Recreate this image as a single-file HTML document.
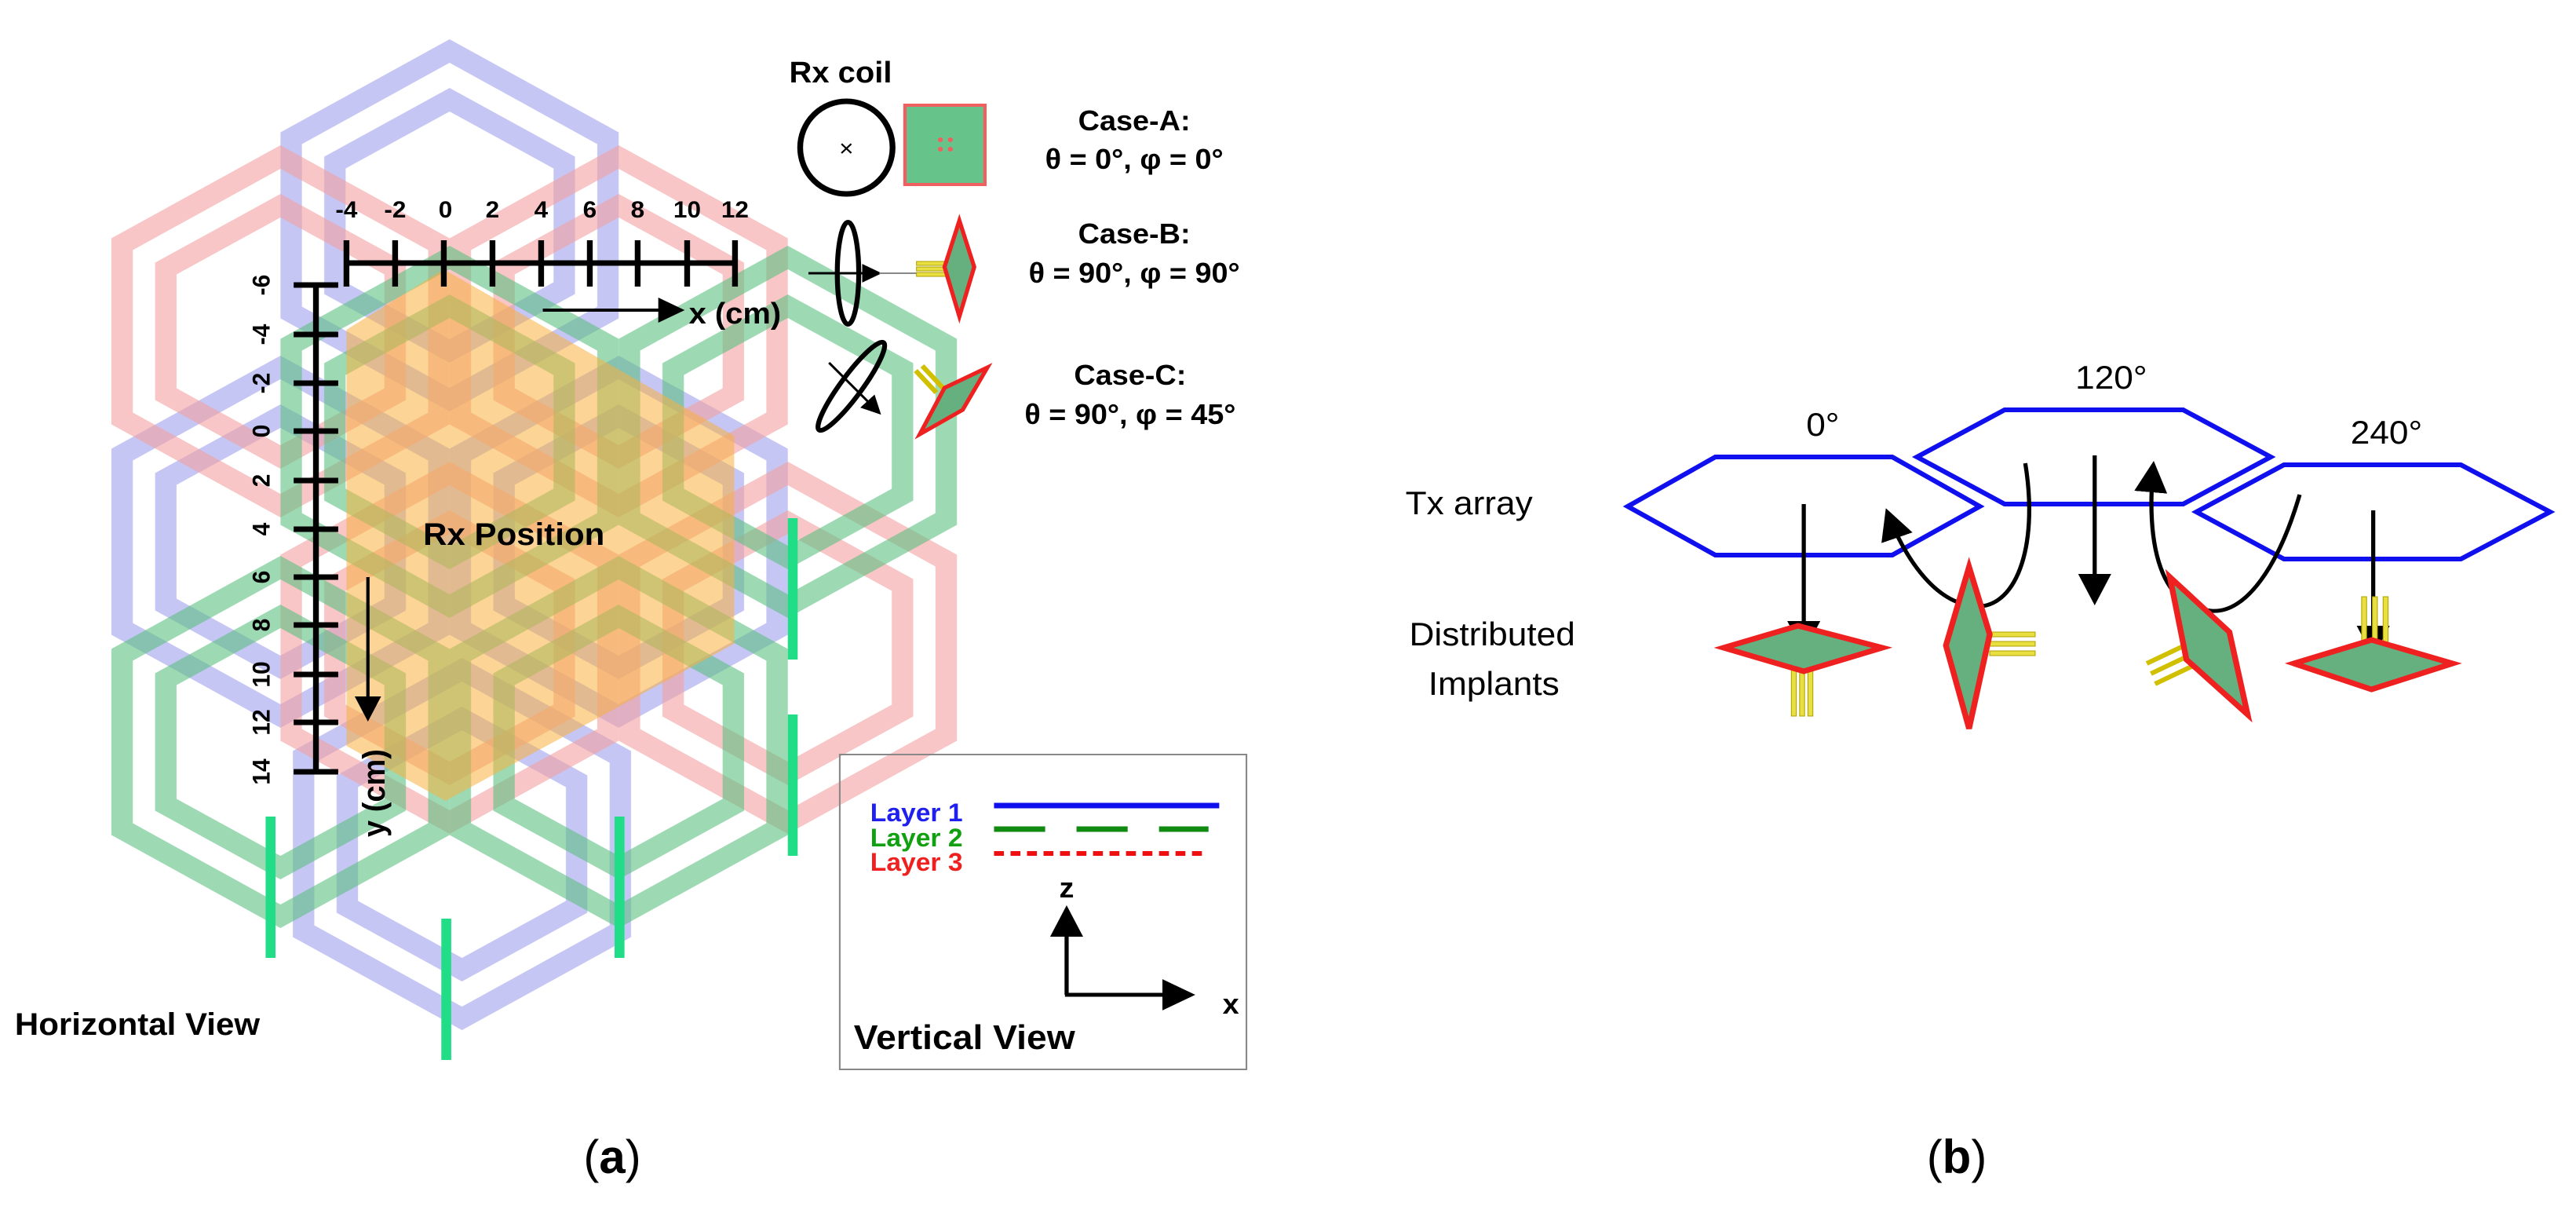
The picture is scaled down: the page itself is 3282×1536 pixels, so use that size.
<!DOCTYPE html>
<html><head><meta charset="utf-8"><style>
html,body{margin:0;padding:0;background:#fff;}
svg{display:block;}
text{font-family:"Liberation Sans",sans-serif;}
</style></head><body>
<svg width="3282" height="1536" viewBox="0 0 3282 1536" xmlns="http://www.w3.org/2000/svg">
<defs>
<marker id="ah" markerWidth="8" markerHeight="8" refX="7" refY="4" orient="auto" markerUnits="strokeWidth"><path d="M0,0 L8,4 L0,8 Z" fill="#000"/></marker>
<g id="hx"><polygon points="0,-222 192,-111 192,111 0,222 -192,111 -192,-111" fill="none" stroke-width="26"/><polygon points="0,-160 139,-80 139,80 0,160 -139,80 -139,-80" fill="none" stroke-width="26"/></g>
</defs>
<g transform="scale(1.051,1)">
<g opacity="0.65">
<use href="#hx" x="545" y="287" stroke="#a8a8f0"/>
<use href="#hx" x="340" y="690" stroke="#a8a8f0"/>
<use href="#hx" x="750" y="690" stroke="#a8a8f0"/>
<use href="#hx" x="560" y="1075" stroke="#a8a8f0"/>
</g>
<g opacity="0.6">
<use href="#hx" x="340" y="422" stroke="#f4a0a0"/>
<use href="#hx" x="750" y="422" stroke="#f4a0a0"/>
<use href="#hx" x="955" y="825" stroke="#f4a0a0"/>
<use href="#hx" x="545" y="825" stroke="#f4a0a0"/>
</g>
<g opacity="0.6">
<use href="#hx" x="955" y="550" stroke="#5cc080"/>
<use href="#hx" x="340" y="945" stroke="#5cc080"/>
<use href="#hx" x="750" y="945" stroke="#5cc080"/>
<use href="#hx" x="545" y="550" stroke="#5cc080"/>
</g>
<g fill="#22dd88"><rect x="322" y="1040" width="12" height="180"/><rect x="535" y="1170" width="12" height="180"/><rect x="745" y="1040" width="12" height="180"/><rect x="955" y="660" width="12" height="180"/><rect x="955" y="910" width="12" height="180"/></g>
<polygon points="538,343 890,555 890,820 540,1020 420,950 420,420" fill="#f8b040" opacity="0.55"/>
<g stroke="#000" stroke-width="7">
<line x1="420" y1="335" x2="891" y2="335"/>
<line x1="420" y1="306" x2="420" y2="365"/><line x1="479" y1="306" x2="479" y2="365"/><line x1="538" y1="306" x2="538" y2="365"/><line x1="597" y1="306" x2="597" y2="365"/><line x1="656" y1="306" x2="656" y2="365"/><line x1="715" y1="306" x2="715" y2="365"/><line x1="773" y1="306" x2="773" y2="365"/><line x1="833" y1="306" x2="833" y2="365"/><line x1="891" y1="306" x2="891" y2="365"/>
<line x1="383" y1="363" x2="383" y2="983"/>
<line x1="356" y1="363" x2="410" y2="363"/><line x1="356" y1="426" x2="410" y2="426"/><line x1="356" y1="488" x2="410" y2="488"/><line x1="356" y1="549" x2="410" y2="549"/><line x1="356" y1="612" x2="410" y2="612"/><line x1="356" y1="674" x2="410" y2="674"/><line x1="356" y1="735" x2="410" y2="735"/><line x1="356" y1="796" x2="410" y2="796"/><line x1="356" y1="859" x2="410" y2="859"/><line x1="356" y1="920" x2="410" y2="920"/><line x1="356" y1="983" x2="410" y2="983"/>
</g>
<g font-size="30" font-weight="bold" text-anchor="middle">
<text x="420" y="277">-4</text><text x="479" y="277">-2</text><text x="540" y="277">0</text><text x="597" y="277">2</text><text x="656" y="277">4</text><text x="715" y="277">6</text><text x="773" y="277">8</text><text x="833" y="277">10</text><text x="891" y="277">12</text>
<text transform="translate(327,363) rotate(-90)">-6</text><text transform="translate(327,426) rotate(-90)">-4</text><text transform="translate(327,488) rotate(-90)">-2</text><text transform="translate(327,549) rotate(-90)">0</text><text transform="translate(327,612) rotate(-90)">2</text><text transform="translate(327,674) rotate(-90)">4</text><text transform="translate(327,735) rotate(-90)">6</text><text transform="translate(327,796) rotate(-90)">8</text><text transform="translate(327,859) rotate(-90)">10</text><text transform="translate(327,920) rotate(-90)">12</text><text transform="translate(327,983) rotate(-90)">14</text>
</g>
<line x1="658" y1="395" x2="826" y2="395" stroke="#000" stroke-width="4" marker-end="url(#ah)"/>
<text x="835" y="412" font-size="38" font-weight="bold">x (cm)</text>
<line x1="446" y1="735" x2="446" y2="915" stroke="#000" stroke-width="4" marker-end="url(#ah)"/>
<text transform="translate(466,1010) rotate(-90)" font-size="38" font-weight="bold" text-anchor="middle">y (cm)</text>
<text x="513" y="694" font-size="40" font-weight="bold">Rx Position</text>
<text x="1019" y="105" font-size="38" font-weight="bold" text-anchor="middle">Rx coil</text>
<ellipse cx="1026" cy="188" rx="56" ry="59" fill="none" stroke="#000" stroke-width="7"/>
<text x="1026" y="199" font-size="30" text-anchor="middle">×</text>
<rect x="1097" y="134" width="97" height="101" fill="#66c48a" stroke="#f06060" stroke-width="4"/>
<g fill="#f06060"><circle cx="1140" cy="178" r="3"/><circle cx="1152" cy="178" r="3"/><circle cx="1140" cy="190" r="3"/><circle cx="1152" cy="190" r="3"/></g>
<g font-size="36" font-weight="bold" text-anchor="middle">
<text x="1375" y="166">Case-A:</text><text x="1375" y="215">θ = 0°, φ  = 0°</text>
<text x="1375" y="310">Case-B:</text><text x="1375" y="360">θ = 90°, φ = 90°</text>
<text x="1370" y="490">Case-C:</text><text x="1370" y="540">θ = 90°, φ = 45°</text>
</g>
<ellipse cx="1028" cy="348" rx="13" ry="65" fill="none" stroke="#000" stroke-width="6"/>
<line x1="980" y1="348" x2="1066" y2="348" stroke="#000" stroke-width="3" marker-end="url(#ah)"/>
<line x1="1066" y1="348" x2="1111" y2="348" stroke="#888" stroke-width="2"/>
<g fill="#e8e040" stroke="#b0a000" stroke-width="1"><rect x="1111" y="333" width="36" height="5"/><rect x="1111" y="340" width="36" height="5"/><rect x="1111" y="347" width="36" height="5"/></g>
<polygon points="1163,281 1181,340 1163,403 1145,340" fill="#66b080" stroke="#ee2020" stroke-width="5"/>
<ellipse cx="1032" cy="492" rx="68" ry="13" transform="rotate(-55 1032 492)" fill="none" stroke="#000" stroke-width="6"/>
<line x1="1005" y1="462" x2="1066" y2="526" stroke="#000" stroke-width="3" marker-end="url(#ah)"/>
<g stroke="#d0c000" stroke-width="6"><line x1="1110" y1="472" x2="1135" y2="500"/><line x1="1118" y1="466" x2="1143" y2="494"/></g>
<polygon points="1197,468 1145,494 1115,553 1167,522" fill="#66b080" stroke="#ee2020" stroke-width="5"/>
<rect x="1018" y="961" width="493" height="401" fill="none" stroke="#888" stroke-width="2"/>
<g font-size="32" font-weight="bold"><text x="1055" y="1046" fill="#2020ee">Layer 1</text><text x="1055" y="1078" fill="#10a010">Layer 2</text><text x="1055" y="1109" fill="#ee2020">Layer 3</text></g>
<line x1="1205" y1="1026" x2="1478" y2="1026" stroke="#1010ee" stroke-width="7"/>
<line x1="1205" y1="1056" x2="1465" y2="1056" stroke="#108a10" stroke-width="7" stroke-dasharray="62,38"/>
<line x1="1205" y1="1087" x2="1465" y2="1087" stroke="#ee1010" stroke-width="6" stroke-dasharray="12,8"/>
<line x1="1293" y1="1267" x2="1293" y2="1158" stroke="#000" stroke-width="5" marker-end="url(#ah)"/>
<line x1="1291" y1="1267" x2="1444" y2="1267" stroke="#000" stroke-width="5" marker-end="url(#ah)"/>
<text x="1293" y="1143" font-size="36" font-weight="bold" text-anchor="middle">z</text>
<text x="1492" y="1291" font-size="36" font-weight="bold" text-anchor="middle">x</text>
<text x="1035" y="1336" font-size="44" font-weight="bold">Vertical View</text>
<text x="18" y="1318" font-size="40" font-weight="bold">Horizontal View</text>
</g>
<text x="780" y="1494" font-size="60" text-anchor="middle" font-family="Liberation Serif,serif">(<tspan font-weight="bold">a</tspan>)</text>
<text x="2493" y="1494" font-size="60" text-anchor="middle" font-family="Liberation Serif,serif">(<tspan font-weight="bold">b</tspan>)</text>
<g transform="translate(1640,0) scale(1.053,1) translate(-1640,0)">
<g fill="none" stroke="#1010ee" stroke-width="6">
<polygon points="2052,645 2158,582 2372,582 2478,645 2372,707 2158,707"/>
<polygon points="2402,582 2508,522 2724,522 2830,582 2724,642 2508,642"/>
<polygon points="2740,652 2846,592 3060,592 3168,652 3060,712 2846,712"/>
</g>
<g font-size="42" text-anchor="middle">
<text x="2288" y="555">0°</text><text x="2637" y="495">120°</text><text x="2970" y="565">240°</text>
<text x="1860" y="655">Tx array</text><text x="1888" y="822">Distributed</text><text x="1890" y="885">Implants</text>
</g>
<g stroke="#000" stroke-width="5" fill="none" marker-end="url(#ah)">
<line x1="2265" y1="642" x2="2265" y2="826"/>
<line x1="2617" y1="580" x2="2617" y2="766"/>
<line x1="2954" y1="650" x2="2954" y2="832"/>
<path d="M2533,590 C2550,700 2520,778 2470,772 C2420,766 2385,705 2366,652"/>
<path d="M2865,630 C2840,720 2800,782 2758,778 C2690,772 2680,680 2688,592"/>
</g>
<g fill="#e8e040" stroke="#b0a000" stroke-width="1">
<rect x="2250" y="850" width="6" height="62"/><rect x="2260" y="850" width="6" height="62"/><rect x="2270" y="850" width="6" height="62"/>
<rect x="2490" y="805" width="55" height="6"/><rect x="2490" y="817" width="55" height="6"/><rect x="2490" y="829" width="55" height="6"/>
<rect x="2940" y="760" width="6" height="70"/><rect x="2953" y="760" width="6" height="70"/><rect x="2966" y="760" width="6" height="70"/>
</g>
<g stroke="#d0c000" stroke-width="6"><line x1="2680" y1="845" x2="2730" y2="820"/><line x1="2685" y1="858" x2="2735" y2="833"/><line x1="2690" y1="871" x2="2740" y2="846"/></g>
<g fill="#66b080" stroke="#ee2020" stroke-width="7">
<polygon points="2168,825 2258,797 2360,825 2265,855"/>
<polygon points="2465,722 2490,808 2465,928 2437,822"/>
<polygon points="2708,735 2780,805 2802,910 2728,840"/>
<polygon points="2858,845 2952,815 3050,845 2952,878"/>
</g>
</g>
</svg>
</body></html>
